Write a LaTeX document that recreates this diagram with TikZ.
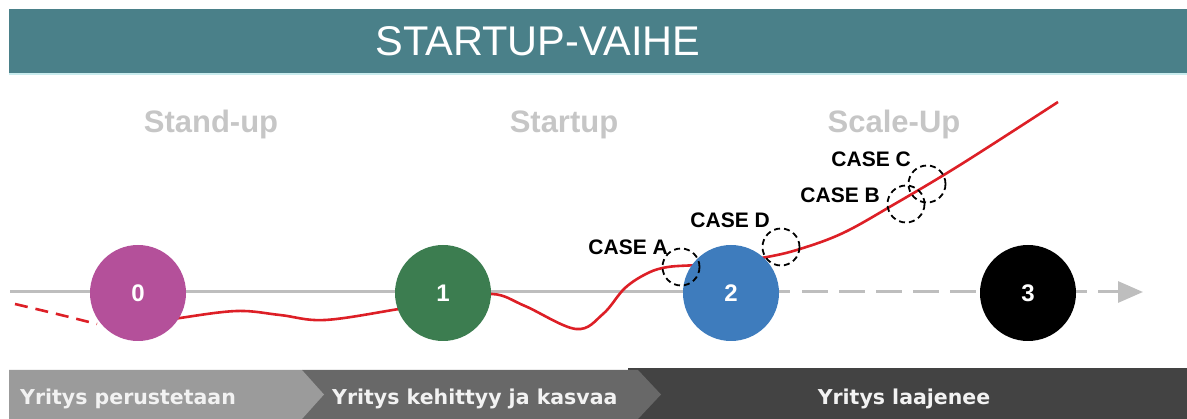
\documentclass[tikz,border=0pt]{standalone}
\usepackage{fontspec}
\setmainfont{Liberation Sans}
\newfontfamily\barfont{DejaVu Sans}
\usetikzlibrary{arrows.meta}
\tikzset {>=Stealth}

\definecolor{headteal}{HTML}{4A8089}
\definecolor{headline}{HTML}{C9ECEE}
\definecolor{labelgray}{HTML}{C6C6C6}
\definecolor{axisgray}{HTML}{BEBEBE}
\definecolor{curvered}{HTML}{DD1F26}
\definecolor{stagepink}{HTML}{B4509A}
\definecolor{stagegreen}{HTML}{3C7D50}
\definecolor{stageblue}{HTML}{3E7CBD}
\definecolor{barone}{HTML}{9B9B9B}
\definecolor{bartwo}{HTML}{686868}
\definecolor{barthree}{HTML}{434343}
\definecolor{bartext}{HTML}{F2F2F2}

\tikzset{
  phase/.style={circle,minimum size=96pt,inner sep=0pt,text=white,
    font=\bfseries\fontsize{24}{24}\selectfont},
  casering/.style={circle,draw=black,dash pattern=on 6pt off 4pt,
    line width=1.8pt,minimum size=37pt,inner sep=0pt},
  caselabel/.style={anchor=base east,inner sep=0pt,
    font=\bfseries\fontsize{21}{21}\selectfont},
  stagelabel/.style={anchor=base,inner sep=0pt,text=labelgray,
    font=\bfseries\fontsize{31}{31}\selectfont},
  barlabel/.style={inner sep=0pt,text=bartext,
    font=\barfont\bfseries\fontsize{20.5}{20.5}\selectfont}
}

\begin{document}
\begin{tikzpicture}[x=1pt,y=-1pt]
\useasboundingbox (0,0) rectangle (1187,419);

% title bar
\fill[headteal] (9,9) rectangle (1187,73);
\draw[headline,line width=1.5pt] (9,74) -- (1187,74);
\node[text=white,font=\fontsize{41.5}{41.5}\selectfont] (title) at (538,41) {STARTUP-VAIHE};

\node[stagelabel] (standup) at (211,133) {Stand-up};
\node[stagelabel] (startup) at (564,133) {Startup};
\node[stagelabel] (scaleup) at (894,133) {Scale-Up};

% axis
\path
  (10,292) coordinate (axisL)
  (790,292) coordinate (axisM)
  (802,292) coordinate (axisD)
  (1143,292) coordinate (axisR);
\draw[axisgray,line width=3pt] (axisL) -- (axisM);
\draw[axisgray,line width=3pt,dash pattern=on 26pt off 11pt,
  -{Triangle[length=25pt,width=21pt]}] (axisD) -- (axisR);

% growth curve
\draw[curvered,line width=2.6pt,dash pattern=on 13pt off 8pt]
  plot[smooth] coordinates {(15,304) (57,314) (97,324)};
\draw[curvered,line width=2.6pt]
  plot[smooth,tension=0.6] coordinates {
    (140,325) (180,318) (237,311) (280,315) (325,320) (399,309)
    (443,302) (492,294) (525,306) (576,329) (603,314) (625,288)
    (648,273) (668,267) (697,265) (730,262) (767,257) (800,249)
    (843,233) (893,205) (960,165) (1058,102)};

\node[phase,fill=stagepink] (c0) at (138,293) {0};
\node[phase,fill=stagegreen] (c1) at (443,293) {1};
\node[phase,fill=stageblue] (c2) at (731,293) {2};
\node[phase,fill=black] (c3) at (1028,293) {3};

% cases
\foreach \name/\pos in {caseA/{(681,267)},caseD/{(781,247)},caseB/{(906,204)},caseC/{(927,184)}}
  \node[casering] (\name) at \pos {};

\node[caselabel] (labA) at (668,255) {CASE A};
\node[caselabel] (labD) at (770,228) {CASE D};
\node[caselabel] (labB) at (880,203) {CASE B};
\node[caselabel] (labC) at (911,167) {CASE C};

% bottom bar
\fill[barthree] (628,368) rectangle (1187,419);
\fill[bartwo] (302,370) -- (638,370) -- (661,394.5) -- (638,419) -- (302,419) -- cycle;
\fill[barone] (9,370) -- (302,370) -- (324,394.5) -- (302,419) -- (9,419) -- cycle;

\node[barlabel,anchor=base west] (bar1) at (20,405) {Yritys perustetaan};
\node[barlabel,anchor=base west] (bar2) at (332,405) {Yritys kehittyy ja kasvaa};
\node[barlabel,anchor=base] (bar3) at (904,405) {Yritys laajenee};
\end{tikzpicture}
\end{document}
